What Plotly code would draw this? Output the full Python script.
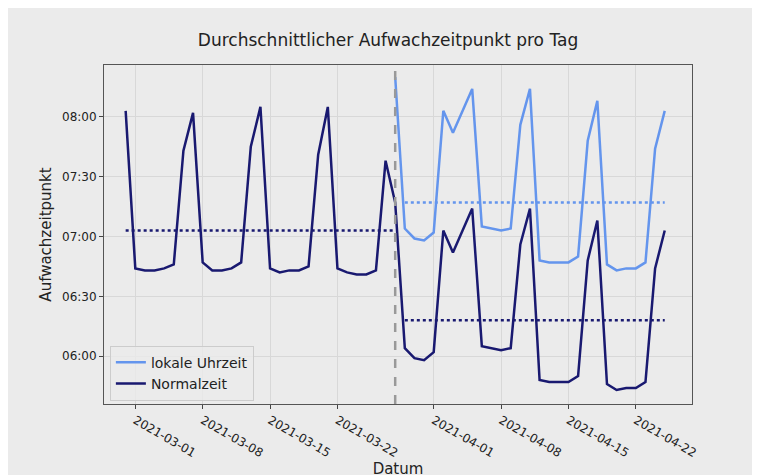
import pandas as pd
import plotly.graph_objects as go

dates = pd.date_range("2021-02-28", "2021-04-25", freq="D")

normalzeit = [
    "08:03", "06:44", "06:43", "06:43", "06:44", "06:46", "07:43", "08:02",
    "06:47", "06:43", "06:43", "06:44", "06:47", "07:45", "08:05",
    "06:44", "06:42", "06:43", "06:43", "06:45", "07:41", "08:05",
    "06:44", "06:42", "06:41", "06:41", "06:43", "07:38", "07:17",
    "06:04", "05:59", "05:58", "06:02", "07:03", "06:52", "07:03", "07:14",
    "06:05", "06:04", "06:03", "06:04", "06:56", "07:14",
    "05:48", "05:47", "05:47", "05:47", "05:50", "06:48", "07:08",
    "05:46", "05:43", "05:44", "05:44", "05:47", "06:44", "07:03",
]
lokale_dates = dates[28:]
lokale = [
    "08:20",
    "07:04", "06:59", "06:58", "07:02", "08:03", "07:52", "08:03", "08:14",
    "07:05", "07:04", "07:03", "07:04", "07:56", "08:14",
    "06:48", "06:47", "06:47", "06:47", "06:50", "07:48", "08:08",
    "06:46", "06:43", "06:44", "06:44", "06:47", "07:44", "08:03",
]
mean_normal_vor = "07:03"
mean_normal_nach = "06:18"
mean_lokal_nach = "07:17"
umstellung = "2021-03-28"


def ts(vals):
    return [pd.to_datetime("1970-01-01 " + v + ":00") for v in vals]


fig = go.Figure()
fig.add_trace(go.Scatter(x=lokale_dates, y=ts(lokale), mode="lines", name="lokale Uhrzeit",
                         line=dict(color="#6495ED", width=2.5)))
fig.add_trace(go.Scatter(x=dates, y=ts(normalzeit), mode="lines", name="Normalzeit",
                         line=dict(color="#191970", width=2.5)))
# Mittelwerte
fig.add_trace(go.Scatter(x=[dates[0], dates[28]], y=ts([mean_normal_vor] * 2), mode="lines",
                         line=dict(color="#191970", width=2.5, dash="dot"), showlegend=False))
fig.add_trace(go.Scatter(x=[dates[29], dates[-1]], y=ts([mean_normal_nach] * 2), mode="lines",
                         line=dict(color="#191970", width=2.5, dash="dot"), showlegend=False))
fig.add_trace(go.Scatter(x=[dates[29], dates[-1]], y=ts([mean_lokal_nach] * 2), mode="lines",
                         line=dict(color="#6495ED", width=2.5, dash="dot"), showlegend=False))
fig.add_vline(x=umstellung, line=dict(color="#999999", width=2.5, dash="dash"))

fig.update_layout(
    width=760, height=475,
    paper_bgcolor="#ebebeb", plot_bgcolor="#ebebeb",
    margin=dict(l=96, r=76, t=57, b=62),
    font=dict(family="DejaVu Sans", color="#222222", size=12),
    title=dict(text="Durchschnittlicher Aufwachzeitpunkt pro Tag", x=0.5, xanchor="center",
               y=0.945, font=dict(size=17)),
    legend=dict(x=0.01, y=0.01, xanchor="left", yanchor="bottom", font=dict(size=14),
                bgcolor="rgba(235,235,235,0.8)", bordercolor="#cccccc", borderwidth=1),
)
fig.update_xaxes(
    title=dict(text="Datum", font=dict(size=15), standoff=0),
    range=["2021-02-25 18:00", "2021-04-27 20:00"],
    tickvals=pd.to_datetime(["2021-03-01", "2021-03-08", "2021-03-15", "2021-03-22",
                             "2021-04-01", "2021-04-08", "2021-04-15", "2021-04-22"]),
    tickformat="%Y-%m-%d", ticks="outside", ticklen=4,
    showgrid=True, gridcolor="#d8d8d8", showline=True, linecolor="#555555", mirror=True,
)
fig.update_yaxes(
    title=dict(text="Aufwachzeitpunkt", font=dict(size=15), standoff=6),
    range=ts(["05:36", "08:26"]),
    tickvals=ts(["06:00", "06:30", "07:00", "07:30", "08:00"]),
    tickformat="%H:%M", ticks="outside", ticklen=4,
    showgrid=True, gridcolor="#d8d8d8", showline=True, linecolor="#555555", mirror=True,
)

fig.write_html("out.html")
